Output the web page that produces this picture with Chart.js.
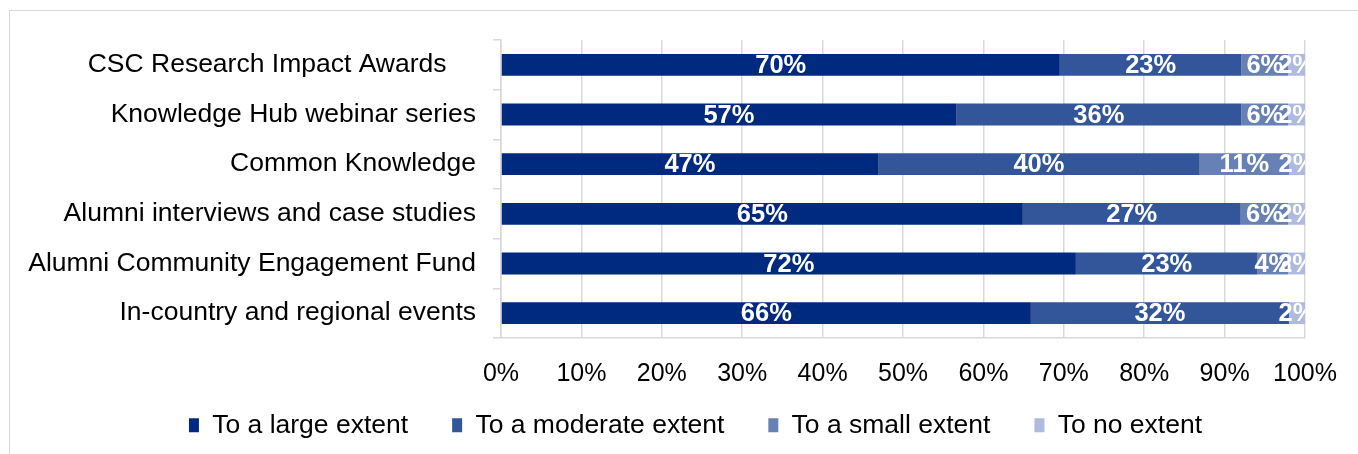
<!DOCTYPE html>
<html>
<head>
<meta charset="utf-8">
<script src="https://cdn.jsdelivr.net/npm/chart.js@4.4.1/dist/chart.umd.min.js"></script>
<style>
  html, body { margin: 0; padding: 0; background: #ffffff; }
  #wrap { position: relative; width: 1358px; height: 454px; overflow: hidden; }
  #frame { position: absolute; left: 9px; top: 10px; width: 1400px; height: 500px; border: 1px solid #d9d9d9; box-sizing: border-box; }
  #c { position: absolute; left: 0; top: 0; }
</style>
</head>
<body>
<div id="wrap">
  <div id="frame"></div>
  <canvas id="c" width="1358" height="454"></canvas>
</div>
<script>
const categories = [
  "CSC Research Impact Awards    ",
  "Knowledge Hub webinar series",
  "Common Knowledge",
  "Alumni interviews and case studies",
  "Alumni Community Engagement Fund",
  "In-country and regional events"
];
const seriesNames = ["To a large extent", "To a moderate extent", "To a small extent", "To no extent"];
const largeExtent    = [69.5, 56.6, 46.9, 64.9, 71.5, 65.9];
const moderateExtent = [22.6, 35.5, 40.0, 27.1, 22.6, 32.1];
const smallExtent    = [5.8, 5.8, 11.1, 5.9, 3.8, 0];
const noExtent       = [2.1, 2.1, 2.0, 2.1, 2.1, 2.0];
const xTicks = [0, 10, 20, 30, 40, 50, 60, 70, 80, 90, 100];
const colors = ["#002a7f", "#33569b", "#6781b5", "#afbae0"];

const seriesValues = [largeExtent, moderateExtent, smallExtent, noExtent];

const labelPlugin = {
  id: 'segLabels',
  afterDatasetsDraw(chart) {
    const ctx = chart.ctx;
    const area = chart.chartArea;
    ctx.save();
    ctx.beginPath();
    ctx.rect(area.left, area.top, area.right - area.left, area.bottom - area.top);
    ctx.clip();
    ctx.font = 'bold 25.5px "Liberation Sans", Arial, sans-serif';
    ctx.fillStyle = '#ffffff';
    ctx.textAlign = 'center';
    ctx.textBaseline = 'middle';
    chart.data.datasets.forEach((ds, di) => {
      const meta = chart.getDatasetMeta(di);
      meta.data.forEach((bar, i) => {
        const v = ds.data[i];
        if (!v) return;
        const cx = (bar.x + bar.base) / 2;
        ctx.fillText(Math.round(v) + '%', cx, bar.y + 1);
      });
    });
    ctx.restore();
  }
};

const legendAdjust = {
  id: 'legendAdjust',
  afterInit(chart) {
    const lg = chart.legend;
    if (!lg) return;
    const origFit = lg.fit;
    lg.fit = function () { origFit.call(this); this.height = 56; };
  },
  afterLayout(chart) {
    const lg = chart.legend;
    if (!lg) return;
    lg.left += 42; lg.right += 42;
    lg.top -= 24;
    lg.bottom = chart.height;
    lg.height = lg.bottom - lg.top;
  }
};

new Chart(document.getElementById('c'), {
  type: 'bar',
  data: {
    labels: categories,
    datasets: seriesNames.map((name, i) => ({
      label: name,
      data: seriesValues[i],
      backgroundColor: colors[i],
      borderWidth: 0,
      barPercentage: 0.44,
      categoryPercentage: 1.0
    }))
  },
  options: {
    indexAxis: 'y',
    responsive: false,
    animation: false,
    devicePixelRatio: 1,
    layout: { padding: { top: 40, right: 51, left: 0, bottom: 6 } },
    plugins: {
      tooltip: { enabled: false },
      legend: {
        position: 'bottom',
        labels: {
          boxWidth: 10,
          boxHeight: 14,
          padding: 44,
          color: '#000000',
          font: { family: '"Liberation Sans", Arial, sans-serif', size: 26.5 }
        }
      }
    },
    scales: {
      x: {
        stacked: true,
        min: 0,
        max: 100,
        afterBuildTicks(scale) { scale.ticks = xTicks.map(v => ({ value: v })); },
        afterFit(scale) { scale.height = 54; },
        ticks: {
          callback: v => v + '%',
          color: '#000000',
          padding: 21,
          maxRotation: 0,
          autoSkip: false,
          font: { family: '"Liberation Sans", Arial, sans-serif', size: 25 }
        },
        grid: { color: '#d9d9d9', lineWidth: 1.5, drawTicks: false },
        border: { color: '#d9d9d9', width: 1.5 }
      },
      y: {
        stacked: true,
        afterFit(scale) { scale.width = 501; },
        ticks: {
          color: '#000000',
          padding: 17,
          autoSkip: false,
          font: { family: '"Liberation Sans", Arial, sans-serif', size: 26.5 }
        },
        grid: { offset: true, drawOnChartArea: false, drawTicks: true, tickLength: 8, color: '#d9d9d9', lineWidth: 1.5 },
        border: { color: '#d9d9d9', width: 1.5 }
      }
    }
  },
  plugins: [labelPlugin, legendAdjust]
});
</script>
</body>
</html>
